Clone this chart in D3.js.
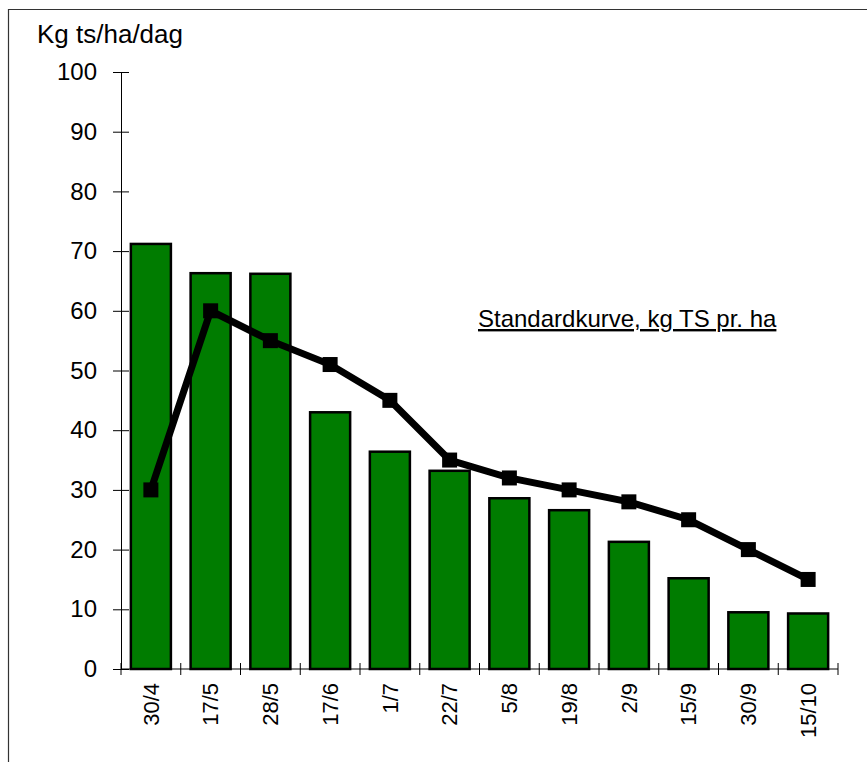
<!DOCTYPE html>
<html lang="da">
<head>
  <meta charset="UTF-8">
  <title>Kg ts/ha/dag</title>
  <script src="https://d3js.org/d3.v7.min.js"></script>
  <style>
    body { margin: 0; background: #fff; }
    text { font-family: "Liberation Sans", Arial, sans-serif; fill: #000; }
  </style>
</head>
<body>
  <div class="chart"></div>
  <script>
    const dates = ["30/4", "17/5", "28/5", "17/6", "1/7", "22/7", "5/8", "19/8", "2/9", "15/9", "30/9", "15/10"];
    const measured = [71.2, 66.3, 66.2, 43.0, 36.4, 33.2, 28.6, 26.6, 21.3, 15.2, 9.5, 9.3];
    const standard = [30, 60, 55, 51, 45, 35, 32, 30, 28, 25, 20, 15];
    const yTicks = [0, 10, 20, 30, 40, 50, 60, 70, 80, 90, 100];

    const width = 867, height = 762;
    const plotLeft = 121, plotRight = 838, plotTop = 72, plotBottom = 669;

    const svg = d3.select(".chart").append("svg")
      .attr("width", width)
      .attr("height", height);

    // outer frame
    svg.append("path")
      .attr("d", `M8.5,${height} V9.5 H${width}`)
      .attr("fill", "none")
      .attr("stroke", "#333")
      .attr("stroke-width", 1.2);

    const x = d3.scaleBand()
      .domain(dates)
      .range([plotLeft, plotRight])
      .paddingInner(0.33)
      .paddingOuter(0.165);

    const y = d3.scaleLinear()
      .domain([0, 100])
      .range([plotBottom, plotTop]);

    // y axis
    const yAxis = svg.append("g")
      .attr("transform", `translate(${plotLeft},0)`)
      .call(d3.axisLeft(y).tickValues(yTicks).tickSize(8).tickSizeOuter(0).tickPadding(16));
    yAxis.select(".domain").attr("stroke", "#000");
    yAxis.selectAll(".tick line").attr("x2", 8).attr("x1", -8).attr("stroke", "#000");
    yAxis.selectAll(".tick text").attr("font-size", 24).attr("fill", "#000")
      .attr("font-family", "'Liberation Sans', Arial, sans-serif");

    // bars
    svg.append("g").selectAll("rect")
      .data(measured)
      .join("rect")
      .attr("x", (d, i) => x(dates[i]))
      .attr("y", d => y(d))
      .attr("width", x.bandwidth())
      .attr("height", d => y(0) - y(d))
      .attr("fill", "#007c00")
      .attr("stroke", "#000")
      .attr("stroke-width", 2.5);

    // x axis line and separator ticks
    svg.append("line")
      .attr("x1", plotLeft).attr("x2", plotRight)
      .attr("y1", plotBottom).attr("y2", plotBottom)
      .attr("stroke", "#000");
    const step = x.step();
    svg.append("g").selectAll("line")
      .data(d3.range(dates.length + 1))
      .join("line")
      .attr("x1", i => plotLeft + i * step)
      .attr("x2", i => plotLeft + i * step)
      .attr("y1", plotBottom - 6)
      .attr("y2", plotBottom + 6)
      .attr("stroke", "#000");

    // rotated category labels
    svg.append("g").selectAll("text")
      .data(dates)
      .join("text")
      .attr("transform", d => `translate(${x(d) + x.bandwidth() / 2},683) rotate(-90)`)
      .attr("text-anchor", "end")
      .attr("dy", "0.35em")
      .attr("font-size", 22)
      .text(d => d);

    // standard curve
    const cx = (d, i) => x(dates[i]) + x.bandwidth() / 2;
    svg.append("path")
      .datum(standard)
      .attr("d", d3.line().x(cx).y(d => y(d)))
      .attr("fill", "none")
      .attr("stroke", "#000")
      .attr("stroke-width", 7)
      .attr("stroke-linejoin", "miter");
    svg.append("g").selectAll("rect")
      .data(standard)
      .join("rect")
      .attr("x", (d, i) => cx(d, i) - 7.5)
      .attr("y", d => y(d) - 7.5)
      .attr("width", 15)
      .attr("height", 15)
      .attr("fill", "#000");

    // titles
    svg.append("text")
      .attr("x", 37)
      .attr("y", 43)
      .attr("font-size", 26)
      .text("Kg ts/ha/dag");

    svg.append("text")
      .attr("x", 478)
      .attr("y", 327)
      .attr("font-size", 24)
      .attr("text-decoration", "underline")
      .text("Standardkurve, kg TS pr. ha");
  </script>
</body>
</html>
